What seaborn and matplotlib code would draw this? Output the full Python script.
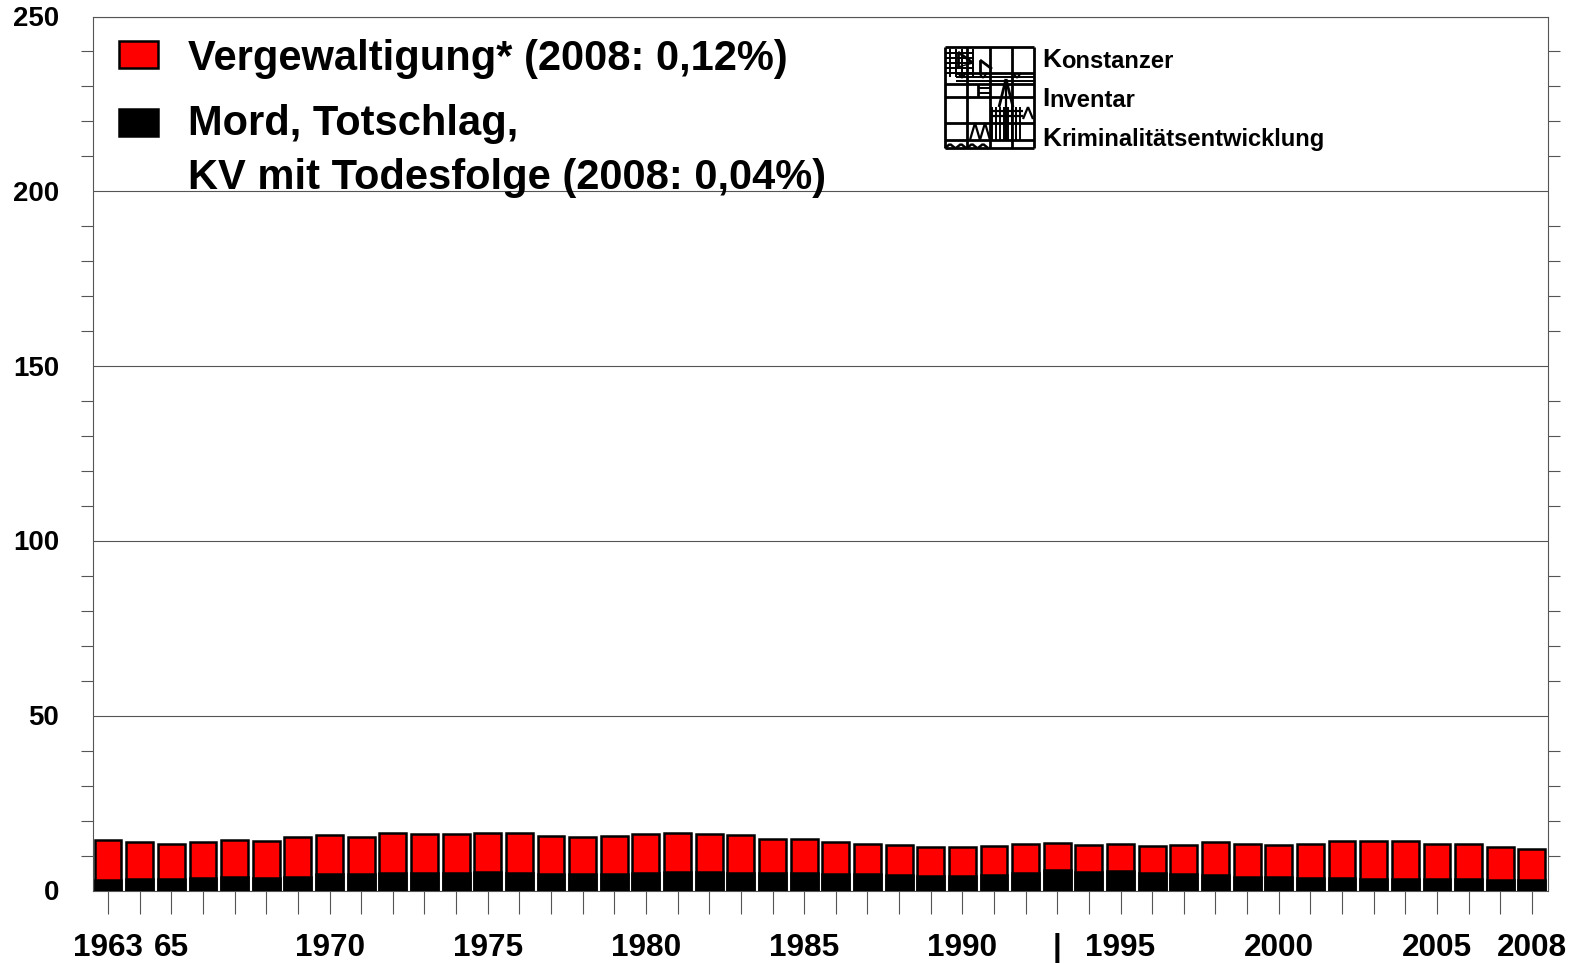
import matplotlib
matplotlib.use("Agg")
import matplotlib.pyplot as plt
import matplotlib.transforms as mtrans
import seaborn as sns
from matplotlib.patches import Patch

years = list(range(1963, 2009))
total = [14.5, 13.9, 13.4, 13.8, 14.4, 14.2, 15.2, 15.8, 15.3, 16.5, 16.3, 16.3, 16.4, 16.4, 15.7, 15.4,
         15.5, 16.1, 16.5, 16.3, 15.9, 14.6, 14.7, 14.0, 13.3, 13.1, 12.3, 12.4, 12.8, 13.3, 13.7, 12.9,
         13.3, 12.8, 13.0, 14.0, 13.3, 13.1, 13.3, 14.1, 14.2, 14.2, 13.2, 13.3, 12.3, 11.9]
murder = [3.1, 3.3, 3.4, 3.6, 3.9, 3.6, 4.0, 4.6, 4.7, 5.1, 5.0, 5.0, 5.3, 5.1, 4.8, 4.7,
          4.8, 5.0, 5.2, 5.3, 5.0, 4.9, 5.1, 4.8, 4.7, 4.5, 4.2, 4.2, 4.4, 5.0, 5.8, 5.3,
          5.7, 5.1, 4.8, 4.4, 4.0, 3.9, 3.6, 3.6, 3.4, 3.2, 3.3, 3.3, 3.1, 3.1]
year_labels = {1963: "1963", 1965: "65", 1970: "1970", 1975: "1975", 1980: "1980", 1985: "1985", 1990: "1990",
               1993: "|", 1995: "1995", 2000: "2000", 2005: "2005", 2008: "2008"}
y_major = [0, 50, 100, 150, 200, 250]
y_minor = [10, 20, 30, 40, 60, 70, 80, 90, 110, 120, 130, 140, 160, 170, 180, 190, 210, 220, 230, 240]
legend_labels = ["Vergewaltigung* (2008: 0,12%)", "Mord, Totschlag,\nKV mit Todesfolge (2008: 0,04%)"]
logo_words = [("K", "onstanzer"), ("I", "nventar"), ("K", "riminalitätsentwicklung")]

sns.set_theme(style="white")
plt.rcParams["font.family"] = ["Liberation Sans", "DejaVu Sans"]
plt.rcParams["font.weight"] = "bold"
plt.rcParams["text.color"] = "black"

W, H = 1585, 963
fig = plt.figure(figsize=(W / 100, H / 100), dpi=100, facecolor="white")
ax = fig.add_axes([92.7 / W, 1 - 890.5 / H, (1547.7 - 92.7) / W, (890.5 - 16.5) / H])
LINE = "#555555"

sns.barplot(x=years, y=total, color="#ff0000", saturation=1, width=0.85, edgecolor="black", linewidth=1.8, ax=ax, zorder=3)
sns.barplot(x=years, y=murder, color="black", saturation=1, width=0.85, edgecolor="black", linewidth=1.8, ax=ax, zorder=4)

ax.set_xlim(-0.485, 45.5)
ax.set_ylim(0, 250)
ax.set_xlabel("")
ax.set_ylabel("")
ax.set_xticks(range(len(years)))
ax.set_xticklabels([year_labels.get(y, "") for y in years], fontsize=22.7, fontweight="bold", color="black")
ax.tick_params(axis="x", bottom=True, length=16.5, width=0.8, color=LINE, pad=14.2)

ax.set_yticks(y_major)
ax.set_yticklabels([str(v) for v in y_major], fontsize=19.9, fontweight="bold", color="black")
ax.set_yticks(y_minor, minor=True)
ax.tick_params(axis="y", which="major", left=False, right=False, length=0, pad=24)
ax.tick_params(axis="y", which="minor", length=8.4, width=0.8, color=LINE, left=True, right=True)
shift = mtrans.ScaledTranslation(0, 0.5 / 100, fig.dpi_scale_trans)
for lab in ax.get_yticklabels():
    lab.set_transform(lab.get_transform() + shift)

ax.grid(False)
ax.yaxis.grid(True, which="major", color=LINE, linewidth=0.8, zorder=1)
ax.set_axisbelow(True)
for s in ax.spines.values():
    s.set_visible(True)
    s.set_color(LINE)
    s.set_linewidth(0.8)

handles = [Patch(facecolor="#ff0000", edgecolor="black", linewidth=1.8), Patch(facecolor="black", edgecolor="black", linewidth=1.8)]
leg = ax.legend(handles, legend_labels, loc="upper left", bbox_to_anchor=((119 - 92.7) / 1455, 1 - 22 / 874), borderaxespad=0, borderpad=0,
                frameon=False, handlelength=0.93, handleheight=0.63, handletextpad=0.73, labelspacing=0.62,
                prop={"family": "Liberation Sans", "weight": "bold", "size": 30})
for t in leg.get_texts():
    t.set_linespacing(1.43)
    t.set_color("black")
leg.set_zorder(6)
leg.legend_handles[1].set_y(leg.legend_handles[1].get_y() + 21.2)

logo = fig.add_axes([945 / W, 1 - 148 / H, 89 / W, 101 / H])
logo.set_xlim(0, 89)
logo.set_ylim(101, 0)
logo.axis("off")
def seg(x0, y0, x1, y1, w=2.0):
    logo.plot([x0, x1], [y0, y1], color="black", lw=w, solid_capstyle="butt", clip_on=False)
for a in [(0, 0, 89, 0), (0, 101, 89, 101), (0, 0, 0, 101), (89, 0, 89, 101),
          (22, 0, 22, 101), (45, 0, 45, 101), (67, 0, 67, 101),
          (0, 37, 89, 37), (0, 50, 89, 50), (0, 76, 89, 76), (0, 93, 89, 93),
          (11, 26, 89, 26), (33, 37, 33, 50)]:
    seg(*a)
for v in [6, 11, 16, 21, 26]:
    seg(0, v, 28, v, 1.4)
for u in [5, 11, 17, 28]:
    seg(u, 2, u, 30, 1.4)
for v in [30, 34]:
    seg(11, v, 89, v, 1.4)
for v in [41, 46]:
    seg(33, v, 45, v, 1.4)
for u in [47, 51, 55, 59, 63, 67, 71, 75]:
    seg(u, 60, u, 93, 1.4)
seg(45, 64, 78, 64, 1.6)
seg(45, 69, 78, 69, 1.6)
seg(61, 32, 54, 60); seg(61, 32, 68, 60); seg(61, 32, 61, 93, 1.6)
seg(13, 5, 28, 16); seg(13, 5, 13, 20); seg(35, 13, 47, 22); seg(35, 13, 35, 26)
seg(13, 20, 28, 16, 1.0)
for cx in [17, 38, 72]:
    seg(cx - 4, 26, cx, 31, 1.4); seg(cx, 31, cx + 4, 26, 1.4)
for x0 in [25, 35]:
    seg(x0, 93, x0 + 5, 76, 1.6); seg(x0 + 5, 76, x0 + 10, 93, 1.6)
seg(78, 72, 83, 60, 1.6); seg(83, 60, 88, 72, 1.6)
for x0 in [0, 11, 22, 33]:
    seg(x0, 101, x0 + 5, 97, 1.8); seg(x0 + 5, 97, x0 + 10, 101, 1.8)

for (big, rest), py in zip(logo_words, [60, 99.5, 138.5]):
    t1 = fig.text(1042 / W, 1 - py / H, big, fontsize=19, fontweight="bold", va="center", ha="left", color="black")
    fig.canvas.draw()
    bb = t1.get_window_extent()
    fig.text((bb.x1 + 0.5) / W, 1 - (py + 1) / H, rest, fontsize=17.1, fontweight="bold", va="center", ha="left", color="black")

fig.savefig("out.png", dpi=100)
